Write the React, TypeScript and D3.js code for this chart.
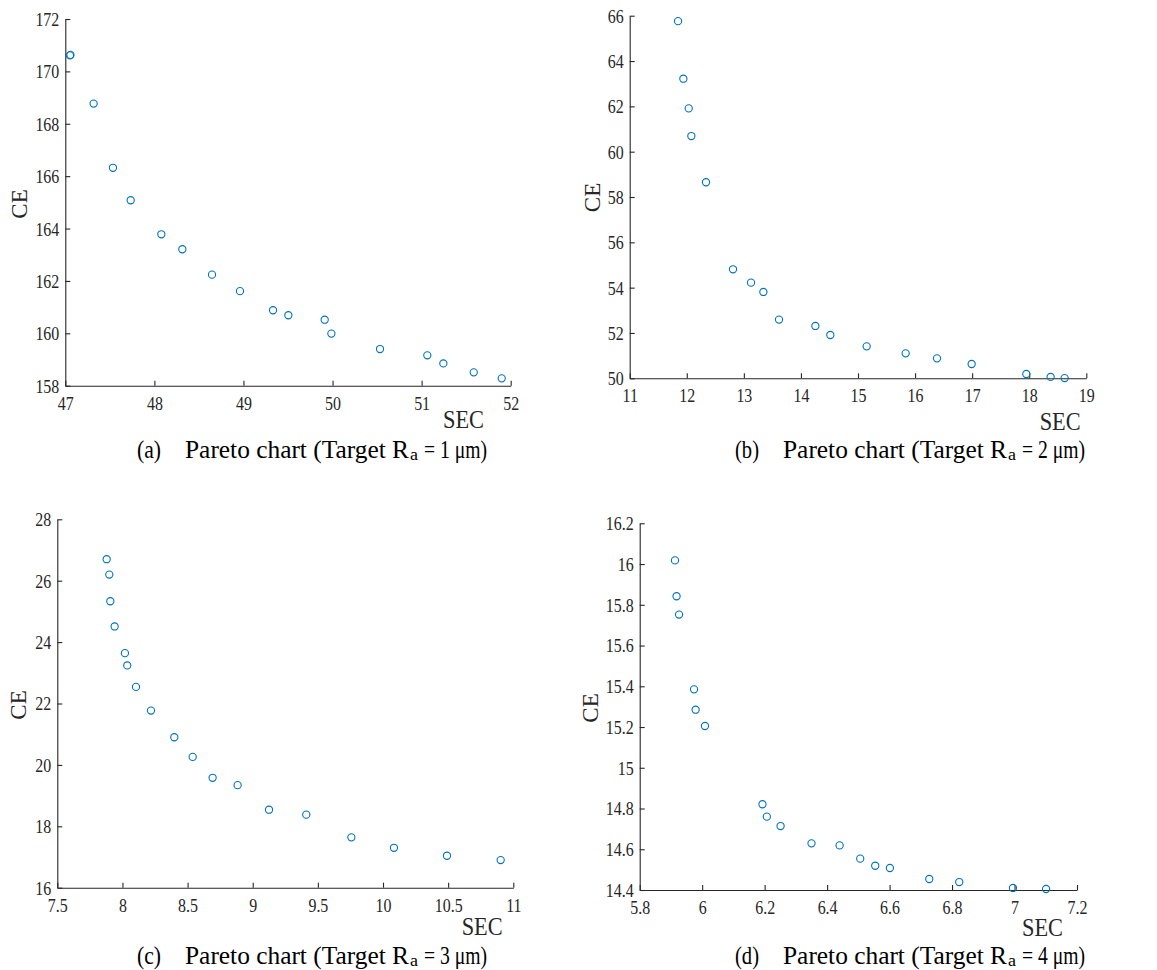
import React, { useEffect, useRef } from 'react';
import * as d3 from 'd3';

// Pareto fronts (SEC on x, CE on y)
const secA = [47.052, 47.058, 47.318, 47.535, 47.734, 48.078, 48.314, 48.647, 48.961, 49.332, 49.504, 49.912, 49.987, 50.533, 51.064, 51.244, 51.585, 51.899];
const ceA = [170.61, 170.63, 168.77, 166.32, 165.08, 163.78, 163.21, 162.24, 161.61, 160.88, 160.69, 160.52, 159.99, 159.40, 159.16, 158.85, 158.51, 158.28];

const secB = [11.847, 11.94, 12.034, 12.08, 12.337, 12.81, 13.126, 13.342, 13.616, 14.253, 14.515, 15.152, 15.835, 16.384, 16.991, 17.949, 18.375, 18.62];
const ceB = [65.76, 63.22, 61.91, 60.69, 58.65, 54.81, 54.22, 53.81, 52.59, 52.31, 51.91, 51.41, 51.10, 50.88, 50.63, 50.19, 50.06, 50.01];

const secC = [7.879, 7.899, 7.907, 7.94, 8.019, 8.037, 8.104, 8.219, 8.398, 8.539, 8.692, 8.884, 9.125, 9.411, 9.757, 10.084, 10.491, 10.903];
const ceC = [26.70, 26.20, 25.33, 24.51, 23.64, 23.24, 22.54, 21.77, 20.90, 20.26, 19.58, 19.34, 18.54, 18.38, 17.64, 17.30, 17.04, 16.90];

const secD = [5.913, 5.918, 5.926, 5.974, 5.979, 6.009, 6.193, 6.207, 6.251, 6.35, 6.44, 6.506, 6.554, 6.601, 6.727, 6.823, 6.995, 7.101];
const ceD = [16.018, 15.842, 15.752, 15.385, 15.285, 15.205, 14.821, 14.76, 14.714, 14.629, 14.619, 14.554, 14.519, 14.508, 14.454, 14.439, 14.41, 14.405];

const xTicksA = [47, 48, 49, 50, 51, 52];
const yTicksA = [158, 160, 162, 164, 166, 168, 170, 172];
const xTicksB = [11, 12, 13, 14, 15, 16, 17, 18, 19];
const yTicksB = [50, 52, 54, 56, 58, 60, 62, 64, 66];
const xTicksC = [7.5, 8, 8.5, 9, 9.5, 10, 10.5, 11];
const yTicksC = [16, 18, 20, 22, 24, 26, 28];
const xTicksD = [5.8, 6, 6.2, 6.4, 6.6, 6.8, 7, 7.2];
const yTicksD = [14.4, 14.6, 14.8, 15, 15.2, 15.4, 15.6, 15.8, 16, 16.2];

const captionTags = ['(a)', '(b)', '(c)', '(d)'];
const targets = ['1', '2', '3', '4'];

const INK = '#262626';
const MARKER = '#0072BD';
const FONT = "'Liberation Serif', 'Times New Roman', serif";

const panels = [
  { sec: secA, ce: ceA, xt: xTicksA, yt: yTicksA, box: [65.3, 19, 510.7, 385.7], ce_: [27, 204], sec_: [484, 428], cap: [137, 185, 458] },
  { sec: secB, ce: ceB, xt: xTicksB, yt: yTicksB, box: [629.7, 15.7, 1086.3, 378.3], ce_: [599.7, 197.5], sec_: [1080.7, 430], cap: [735, 783, 458] },
  { sec: secC, ce: ceC, xt: xTicksC, yt: yTicksC, box: [57.3, 519.3, 513.3, 887.7], ce_: [26, 705], sec_: [502.7, 935], cap: [137, 185, 964] },
  { sec: secD, ce: ceD, xt: xTicksD, yt: yTicksD, box: [639.7, 523.3, 1077, 890], ce_: [598, 708], sec_: [1063, 936], cap: [735, 783, 964] },
];

const fmt = (d: number) => String(+d.toFixed(2));

const App = () => {
  const ref = useRef<SVGSVGElement | null>(null);

  useEffect(() => {
    if (!ref.current) return;
    const svg = d3.select(ref.current);
    svg.selectAll('*').remove();

    panels.forEach((p, i) => {
      const [x0, y0, x1, y1] = p.box;
      const x = d3.scaleLinear().domain([p.xt[0], p.xt[p.xt.length - 1]]).range([x0, x1]);
      const y = d3.scaleLinear().domain([p.yt[0], p.yt[p.yt.length - 1]]).range([y1, y0]);
      const g = svg.append('g');

      const xa = g.append('g')
        .attr('transform', `translate(0,${y1})`)
        .call(d3.axisBottom(x).tickValues(p.xt).tickSizeInner(-5).tickSizeOuter(0).tickFormat(fmt as any));
      xa.selectAll('text')
        .attr('y', 24).attr('dy', 0)
        .attr('transform', 'scale(0.84,1)');

      const ya = g.append('g')
        .attr('transform', `translate(${x0},0)`)
        .call(d3.axisLeft(y).tickValues(p.yt).tickSizeInner(-5).tickSizeOuter(0).tickFormat(fmt as any));
      ya.selectAll('text')
        .attr('x', 0).attr('dy', '0.34em')
        .attr('transform', 'translate(-6,0) scale(0.84,1)');

      [xa, ya].forEach(a => {
        a.attr('font-family', null).attr('font-size', null);
        a.selectAll('path, line').attr('stroke', INK).attr('stroke-width', 1.1);
        a.selectAll('text')
          .attr('fill', INK)
          .style('font-family', FONT)
          .style('font-size', '19px');
      });

      g.selectAll('circle.pt')
        .data(p.sec.map((s, k) => [s, p.ce[k]]))
        .enter()
        .append('circle')
        .attr('class', 'pt')
        .attr('cx', d => x(d[0]))
        .attr('cy', d => y(d[1]))
        .attr('r', 3.6)
        .attr('fill', 'none')
        .attr('stroke', MARKER)
        .attr('stroke-width', 1.1);

      g.append('text')
        .attr('transform', `translate(${p.ce_[0]},${p.ce_[1]}) rotate(-90)`)
        .attr('text-anchor', 'middle')
        .style('font-family', FONT).style('font-size', '23px').attr('fill', INK)
        .text('CE');

      g.append('text')
        .attr('x', p.sec_[0] - 41).attr('y', p.sec_[1])
        .attr('textLength', 41).attr('lengthAdjust', 'spacingAndGlyphs')
        .style('font-family', FONT).style('font-size', '26px').attr('fill', INK)
        .text('SEC');

      // caption: tag, main text, subscript, tail
      const [tagX, px, base] = p.cap;
      const capText = (tx: number, w: number, size: number, dy: number, s: string) =>
        g.append('text')
          .attr('x', tx).attr('y', base + dy)
          .attr('textLength', w).attr('lengthAdjust', 'spacingAndGlyphs')
          .style('font-family', FONT).style('font-size', `${size}px`).attr('fill', '#000')
          .text(s);
      capText(tagX, 24, 25, 0, captionTags[i]);
      capText(px, 224, 25, 0, 'Pareto chart (Target R');
      capText(px + 225, 8, 16, 2, 'a');
      capText(px + 239, 63, 25, 0, `= ${targets[i]} \u03bcm)`);
    });
  }, []);

  return (
    <svg ref={ref} width={1157} height={970}
      style={{ position: 'absolute', left: 0, top: 0, background: '#fff' }} />
  );
};

export default App;
